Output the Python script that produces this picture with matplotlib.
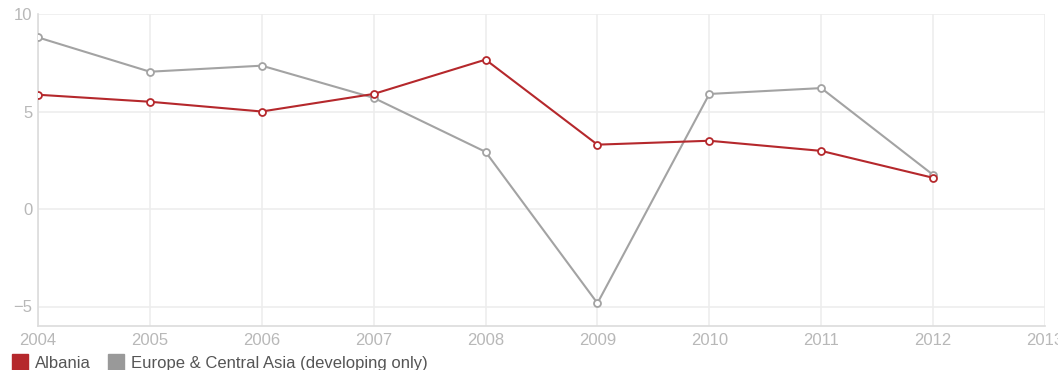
import matplotlib.pyplot as plt
from matplotlib.lines import Line2D

years = [2004, 2005, 2006, 2007, 2008, 2009, 2010, 2011, 2012]
albania = [5.86, 5.5, 5.0, 5.9, 7.66, 3.3, 3.5, 2.98, 1.6]
eca = [8.8, 7.04, 7.35, 5.7, 2.93, -4.83, 5.9, 6.2, 1.75]
x_ticks = list(range(2004, 2014))
y_ticks = [-5, 0, 5, 10]

red = '#b5282c'
grey = '#a3a3a3'
grid_c = '#ededed'
text_c = '#b8b8b8'

plt.rcParams['font.family'] = ['Liberation Sans', 'DejaVu Sans']

fig = plt.figure(figsize=(10.58, 3.70), dpi=100)
ax = fig.add_axes([38 / 1058, 44 / 370, (1045 - 38) / 1058, (326 - 14) / 370])

ax.plot(years, eca, color=grey, lw=1.5, marker='o', ms=5, mfc='white',
        mec=grey, mew=1.3, zorder=3)
ax.plot(years, albania, color=red, lw=1.5, marker='o', ms=5, mfc='white',
        mec=red, mew=1.3, zorder=4)

ax.set_xlim(2004, 2013)
ax.set_ylim(-6, 10)
ax.set_xticks(x_ticks)
ax.set_xticklabels([str(t) for t in x_ticks])
ax.set_yticks(y_ticks)
ax.set_yticklabels(['\u22125', '0', '5', '10'])
ax.grid(True, color=grid_c, lw=1.2)
ax.set_axisbelow(True)
for s in ['top', 'right']:
    ax.spines[s].set_visible(False)
for s in ['left', 'bottom']:
    ax.spines[s].set_color('#dcdcdc')
    ax.spines[s].set_linewidth(1.2)
ax.tick_params(length=0, colors=text_c, labelsize=12)
ax.tick_params(axis='x', pad=5)
ax.tick_params(axis='y', pad=4)

handles = [
    Line2D([], [], ls='none', marker='s', ms=11, mfc=red, mec=red),
    Line2D([], [], ls='none', marker='s', ms=11, mfc='#999999', mec='#999999'),
]
fig.legend(handles, ['Albania', 'Europe & Central Asia (developing only)'],
           loc='lower left', bbox_to_anchor=(0.008, -0.011), ncol=2, frameon=False,
           fontsize=12, labelcolor='#555555', handletextpad=0.4,
           columnspacing=1.0, handlelength=1.0, borderpad=0.2,
           borderaxespad=0.0)

fig.savefig('out.png', dpi=100)
